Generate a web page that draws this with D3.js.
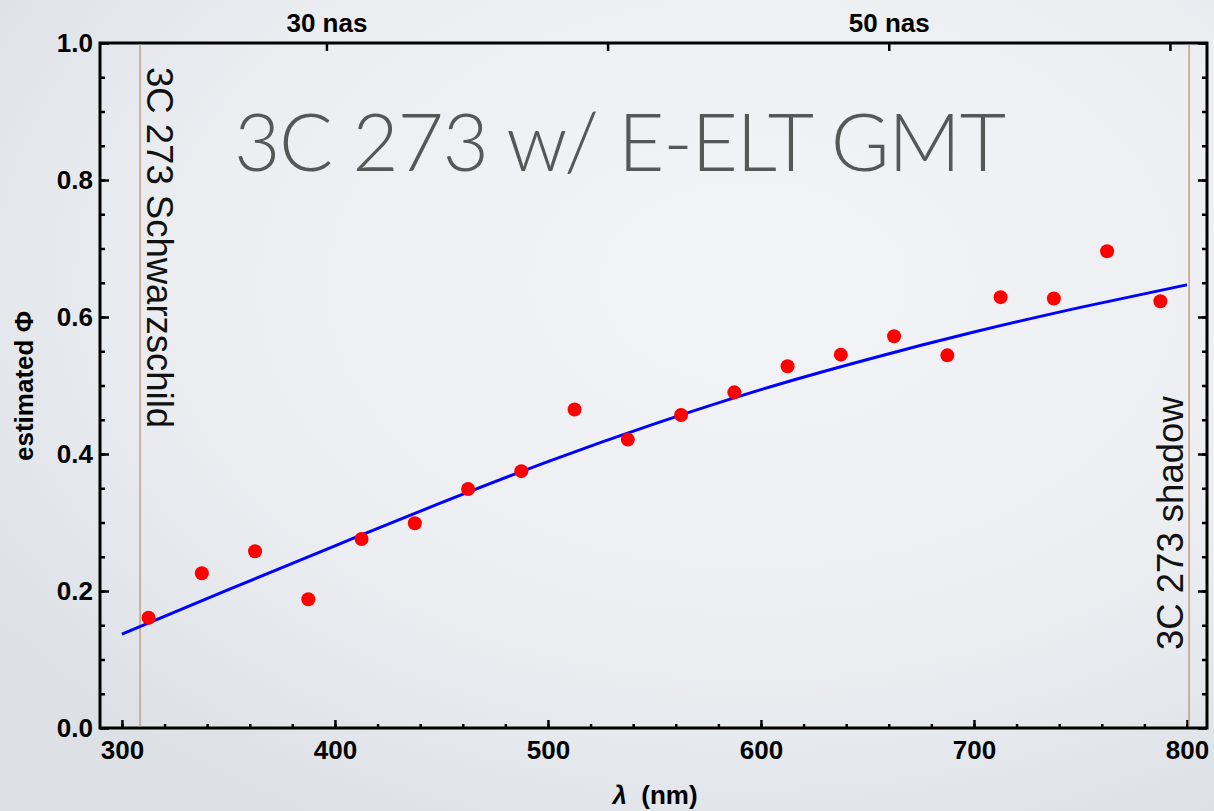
<!DOCTYPE html>
<html>
<head>
<meta charset="utf-8">
<script src="https://cdn.jsdelivr.net/npm/d3@7"></script>
<style>
  html, body { margin: 0; padding: 0; }
  body { width: 1214px; height: 811px; overflow: hidden; }
  .tick text { font-family: "Liberation Sans", Arial, sans-serif; font-weight: bold; font-size: 26px; fill: #000; }
  .tick line { stroke: #000; stroke-width: 2.5; }
</style>
</head>
<body>
<svg id="chart" width="1214" height="811"></svg>
<script>
// wavelength bins (nm) and estimated phase fraction
const wavelengths = [312.5, 337.5, 362.5, 387.5, 412.5, 437.5, 462.5, 487.5, 512.5, 537.5,
                     562.5, 587.5, 612.5, 637.5, 662.5, 687.5, 712.5, 737.5, 762.5, 787.5];
const phiEstimates = [0.161, 0.226, 0.258, 0.188, 0.276, 0.299, 0.349, 0.375, 0.465, 0.421,
                      0.457, 0.490, 0.528, 0.545, 0.572, 0.544, 0.629, 0.627, 0.696, 0.623];

// fitted curve (blue)
const fitLambda = [300, 350, 400, 450, 500, 550, 600, 650, 700, 750, 800];
const fitPhi = [0.137, 0.202, 0.266, 0.329, 0.389, 0.444, 0.494, 0.538, 0.578, 0.614, 0.647];

// vertical markers
const markerLambda = [308.5, 801];
const markerLabels = ["3C 273 Schwarzschild", "3C 273 shadow"];

// axis ticks
const xTicks = [300, 400, 500, 600, 700, 800];
const yTicks = [0, 0.2, 0.4, 0.6, 0.8, 1.0];
const nasTicks = [30, 40, 50, 60];
const nasLabelled = [30, 50];
const nmPerNas = 13.2;

const svg = d3.select("#chart");
const margin = { left: 100, right: 1207, top: 43, bottom: 728 };

// background
const defs = svg.append("defs");
const grad = defs.append("radialGradient").attr("id", "bg")
  .attr("cx", "62%").attr("cy", "35%").attr("r", "75%");
grad.append("stop").attr("offset", "0%").attr("stop-color", "#f3f4f7");
grad.append("stop").attr("offset", "60%").attr("stop-color", "#eceef2");
grad.append("stop").attr("offset", "100%").attr("stop-color", "#dde1e6");
svg.append("rect").attr("width", 1214).attr("height", 811).attr("fill", "url(#bg)");

const x = d3.scaleLinear().domain([289.7, 809.4]).range([margin.left, margin.right]);
const y = d3.scaleLinear().domain([0, 1]).range([margin.bottom, margin.top]);
const xNas = d3.scaleLinear()
  .domain([289.7 / nmPerNas, 809.4 / nmPerNas]).range([margin.left, margin.right]);

// minor ticks
svg.append("g").attr("transform", `translate(0,${margin.bottom})`)
  .call(d3.axisBottom(x).tickValues(d3.range(300, 801, 20)).tickSizeInner(-4).tickSizeOuter(0).tickFormat(""))
  .call(g => g.select(".domain").remove());
svg.append("g").attr("transform", `translate(${margin.left},0)`)
  .call(d3.axisLeft(y).tickValues(d3.range(0, 1.001, 0.05)).tickSizeInner(-5).tickSizeOuter(0).tickFormat(""))
  .call(g => g.select(".domain").remove());
svg.append("g").attr("transform", `translate(${margin.right},0)`)
  .call(d3.axisRight(y).tickValues(d3.range(0, 1.001, 0.05)).tickSizeInner(-5).tickSizeOuter(0).tickFormat(""))
  .call(g => g.select(".domain").remove());

// major ticks
svg.append("g").attr("transform", `translate(0,${margin.bottom})`)
  .call(d3.axisBottom(x).tickValues(xTicks).tickSizeInner(-8).tickSizeOuter(0).tickPadding(13).tickFormat(d3.format("d")))
  .call(g => g.select(".domain").remove());
svg.append("g").attr("transform", `translate(${margin.left},0)`)
  .call(d3.axisLeft(y).tickValues(yTicks).tickSizeInner(-9).tickSizeOuter(0).tickPadding(7).tickFormat(d3.format(".1f")))
  .call(g => g.select(".domain").remove());
svg.append("g").attr("transform", `translate(${margin.right},0)`)
  .call(d3.axisRight(y).tickValues(yTicks).tickSizeInner(-9).tickSizeOuter(0).tickFormat(""))
  .call(g => g.select(".domain").remove());
svg.append("g").attr("transform", `translate(0,${margin.top})`)
  .call(d3.axisTop(xNas).tickValues(nasTicks).tickSizeInner(-8).tickSizeOuter(0).tickPadding(11)
    .tickFormat(d => nasLabelled.includes(d) ? d + " nas" : ""))
  .call(g => g.select(".domain").remove());

// frame
svg.append("rect")
  .attr("x", margin.left).attr("y", margin.top)
  .attr("width", margin.right - margin.left).attr("height", margin.bottom - margin.top)
  .attr("fill", "none").attr("stroke", "#000").attr("stroke-width", 3);

// marker lines
svg.selectAll(".marker")
  .data(markerLambda)
  .join("line")
  .attr("class", "marker")
  .attr("x1", d => x(d)).attr("x2", d => x(d))
  .attr("y1", margin.top + 1.5).attr("y2", margin.bottom - 1.5)
  .attr("stroke", "#c4a488").attr("stroke-width", 1.6);

svg.append("text")
  .attr("transform", `translate(${x(markerLambda[0]) + 7},${margin.top + 24}) rotate(90)`)
  .attr("font-family", "Liberation Sans, Arial, sans-serif")
  .attr("font-size", 36.5).attr("fill", "#111")
  .text(markerLabels[0]);
svg.append("text")
  .attr("transform", `translate(${x(markerLambda[1]) - 6},${margin.bottom - 78}) rotate(-90)`)
  .attr("font-family", "Liberation Sans, Arial, sans-serif")
  .attr("font-size", 36.5).attr("fill", "#111")
  .text(markerLabels[1]);

// title
const title = svg.append("text")
  .attr("x", 234).attr("y", 171)
  .attr("font-family", "Lato, 'Open Sans', sans-serif")
  .attr("font-weight", 300)
  .attr("font-size", 80).attr("fill", "#575757")
  .text("3C 273 w/ E-ELT GMT");
title.attr("textLength", 772).attr("lengthAdjust", "spacing");

// fit curve
const line = d3.line().x((d, i) => x(fitLambda[i])).y(d => y(d)).curve(d3.curveMonotoneX);
svg.append("path")
  .datum(fitPhi)
  .attr("d", line)
  .attr("fill", "none").attr("stroke", "#0000ff").attr("stroke-width", 3);

// data points
svg.selectAll(".pt")
  .data(phiEstimates)
  .join("circle")
  .attr("class", "pt")
  .attr("cx", (d, i) => x(wavelengths[i]))
  .attr("cy", d => y(d))
  .attr("r", 7)
  .attr("fill", "#ff0000");

// axis labels
svg.append("text")
  .attr("transform", `translate(33,386) rotate(-90)`)
  .attr("text-anchor", "middle")
  .attr("font-family", "Liberation Sans, Arial, sans-serif")
  .attr("font-weight", "bold").attr("font-size", 26)
  .text("estimated \u03A6");

const xl = svg.append("text")
  .attr("x", 655).attr("y", 804)
  .attr("text-anchor", "middle")
  .attr("font-family", "Liberation Sans, Arial, sans-serif")
  .attr("font-weight", "bold").attr("font-size", 26);
xl.append("tspan").attr("font-style", "italic").text("\u03BB");
xl.append("tspan").text("\u00A0 (nm)");
</script>
</body>
</html>
